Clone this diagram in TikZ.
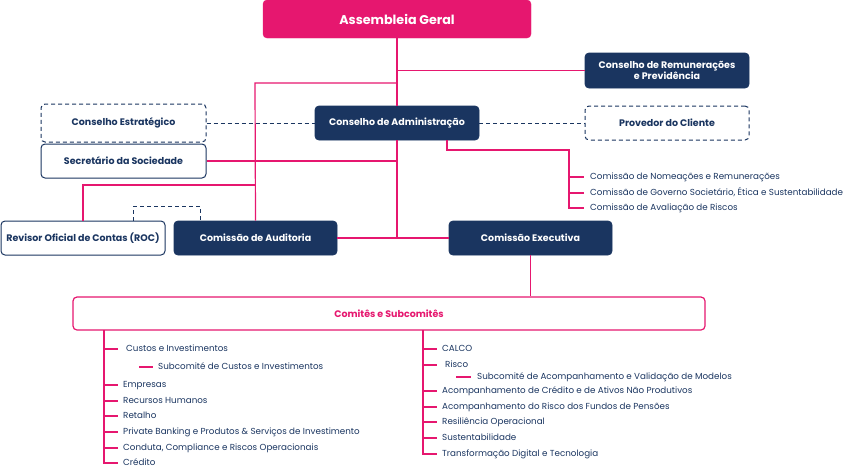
\documentclass[tikz,border=0pt]{standalone}
\usepackage{fontspec}
\setmainfont{Poppins}
\definecolor{bppink}{HTML}{E6176F}
\definecolor{bpnavy}{HTML}{1A3560}
\begin{document}
\begin{tikzpicture}[x=1pt,y=-1pt,
  pinkline/.style={draw=bppink, line width=1.2pt},
  navydash/.style={draw=bpnavy, line width=1pt, dash pattern=on 4pt off 3pt},
  boxbase/.style={rounded corners=4pt, align=center, inner sep=2pt,
    font=\fontsize{9.5}{10.5}\selectfont\bfseries},
  navybox/.style={boxbase, draw=bpnavy, fill=bpnavy, text=white, line width=0.8pt},
  whitebox/.style={boxbase, draw=bpnavy, fill=white, text=bpnavy, line width=1pt},
  dashbox/.style={boxbase, draw=bpnavy, fill=white, text=bpnavy, line width=1pt, dash pattern=on 4pt off 3pt},
  listitem/.style={anchor=west, inner sep=0pt, text=bpnavy, font=\fontsize{8.75}{10}\selectfont,
    text height=0.7em, text depth=0.2em},
]
\useasboundingbox (0,0) rectangle (844,467);

% nodes
\node[boxbase, fill=bppink, draw=bppink, text=white, minimum width=268pt, minimum height=38pt,
      font=\fontsize{12.7}{14}\selectfont\bfseries] (ag) at (397,19) {Assembleia Geral};
\node[navybox, minimum width=164pt, minimum height=35pt, font=\fontsize{9.5}{10}\selectfont\bfseries] (rem) at (667,70.5) {Conselho de Remunerações\\e Previdência};
\node[navybox, minimum width=164pt, minimum height=34pt] (adm) at (397,123) {Conselho de Administração};
\node[dashbox, minimum width=165pt, minimum height=38pt] (est) at (123.5,123) {Conselho Estratégico};
\node[dashbox, minimum width=164pt, minimum height=34pt] (prov) at (667,123) {Provedor do Cliente};
\node[whitebox, minimum width=165pt, minimum height=34pt] (sec) at (123.5,161) {Secretário da Sociedade};
\node[whitebox, minimum width=164pt, minimum height=34pt] (roc) at (83,238) {Revisor Oficial de Contas (ROC)};
\node[navybox, minimum width=163pt, minimum height=34pt] (aud) at (255.5,238) {Comissão de Auditoria};
\node[navybox, minimum width=163pt, minimum height=34pt] (exe) at (530.5,238) {Comissão Executiva};
\node[boxbase, draw=bppink, fill=white, text=bppink, line width=1.2pt, minimum width=632pt, minimum height=33pt] (com) at (389,313.5) {Comitês e Subcomitês};

% connectors top
\draw[pinkline] (ag.south) -- (adm.north);
\draw[pinkline] (adm.south) -- (adm.south |- aud.east);
\draw[pinkline] (ag.south |- rem.west) -- (rem.west);
\coordinate (ja) at (255,83);
\draw[pinkline] (aud.north) -- (ja) -- (ja -| ag.south);
\draw[pinkline] (sec.east) -- (sec.east -| adm.south);
\coordinate (jb) at (83,185);
\draw[pinkline] (roc.north) -- (jb) -- (jb -| aud.north);
\draw[pinkline] (aud.east) -- (exe.west);
\draw[navydash] (est.east) -- (adm.west);
\draw[navydash] (adm.east) -- (prov.west);
\draw[navydash] ([xshift=50pt]roc.north) -- ++(0,-14) -| ([xshift=-55pt]aud.north);

% committees of the board
\node[listitem] (c1) at (590,177) {Comissão de Nomeações e Remunerações};
\node[listitem] (c2) at (590,193) {Comissão de Governo Societário, Ética e Sustentabilidade};
\node[listitem] (c3) at (590,208) {Comissão de Avaliação de Riscos};
\coordinate (cb) at (569,150);
\draw[pinkline] ([xshift=50pt]adm.south) |- (cb) -- (cb |- c3.west) -- ([xshift=-6pt]c3.west);
\draw[pinkline] (cb |- c1.west) -- ([xshift=-6pt]c1.west);
\draw[pinkline] (cb |- c2.west) -- ([xshift=-6pt]c2.west);

\draw[pinkline] (exe.south) -- (exe.south |- com.north);

% left list
\node[listitem] (l1) at (126,349) {Custos e Investimentos};
\node[listitem] (l1s) at (158,367) {Subcomité de Custos e Investimentos};
\node[listitem] (l2) at (123,385) {Empresas};
\node[listitem] (l3) at (123,401) {Recursos Humanos};
\node[listitem] (l4) at (123,416) {Retalho};
\node[listitem] (l5) at (123,432) {Private Banking e Produtos \& Serviços de Investimento};
\node[listitem] (l6) at (123,448) {Conduta, Compliance e Riscos Operacionais};
\node[listitem] (l7) at (123,463) {Crédito};
\coordinate (lb) at (104,330);
\draw[pinkline] (lb) -- (lb |- l7.west) -- ++(14,0);
\foreach \n in {l1,l2,l3,l4,l5,l6} \draw[pinkline] (lb |- \n.west) -- ++(14,0);
\draw[pinkline] ([xshift=-19pt]l1s.west) -- ++(14,0);

% right list
\node[listitem] (r1) at (442,349) {CALCO};
\node[listitem] (r2) at (445,365) {Risco};
\node[listitem] (r2s) at (477,377) {Subcomité de Acompanhamento e Validação de Modelos};
\node[listitem] (r3) at (442,391) {Acompanhamento de Crédito e de Ativos Não Produtivos};
\node[listitem] (r4) at (442,407) {Acompanhamento do Risco dos Fundos de Pensões};
\node[listitem] (r5) at (442,422) {Resiliência Operacional};
\node[listitem] (r6) at (442,438) {Sustentabilidade};
\node[listitem] (r7) at (442,454) {Transformação Digital e Tecnologia};
\coordinate (rb) at (423,330);
\draw[pinkline] (rb) -- (rb |- r7.west) -- ++(14,0);
\foreach \n in {r1,r2,r3,r4,r5,r6} \draw[pinkline] (rb |- \n.west) -- ++(14,0);
\draw[pinkline] ([xshift=-21pt]r2s.west) -- ++(15,0);
\end{tikzpicture}
\end{document}
